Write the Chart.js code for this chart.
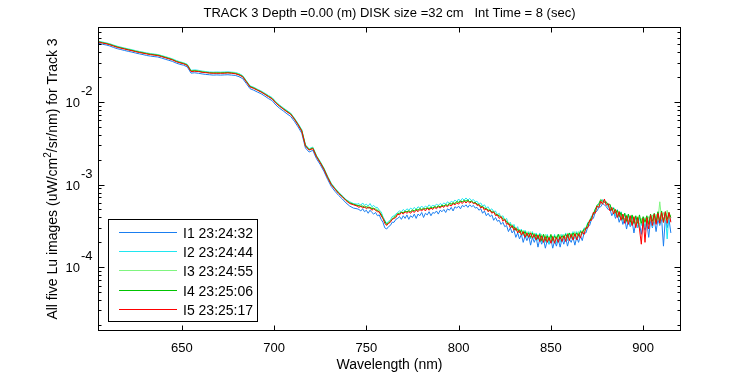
<!DOCTYPE html>
<html><head><meta charset="utf-8">
<script src="https://cdn.jsdelivr.net/npm/chart.js@4.4.1/dist/chart.umd.min.js"></script>
<style>html,body{margin:0;padding:0;background:#fff;overflow:hidden}#wrap{width:750px;height:375px}</style>
</head><body><div id="wrap"><canvas id="c" width="750" height="375"></canvas></div>
<script>
// Wavelength (nm): 2 nm steps to 743, then 1 nm steps 745-915
const wavelengths = [605,607,609,611,613,615,617,619,621,623,
625,627,629,631,633,635,637,639,641,643,
645,647,649,651,653,655,657,659,661,663,
665,667,669,671,673,675,677,679,681,683,
685,687,689,691,693,695,697,699,701,703,
705,707,709,711,713,715,717,719,721,723,
725,727,729,731,733,735,737,739,741,743,
745,746,747,748,749,750,751,752,753,754,
755,756,757,758,759,760,761,762,763,764,
765,766,767,768,769,770,771,772,773,774,
775,776,777,778,779,780,781,782,783,784,
785,786,787,788,789,790,791,792,793,794,
795,796,797,798,799,800,801,802,803,804,
805,806,807,808,809,810,811,812,813,814,
815,816,817,818,819,820,821,822,823,824,
825,826,827,828,829,830,831,832,833,834,
835,836,837,838,839,840,841,842,843,844,
845,846,847,848,849,850,851,852,853,854,
855,856,857,858,859,860,861,862,863,864,
865,866,867,868,869,870,871,872,873,874,
875,876,877,878,879,880,881,882,883,884,
885,886,887,888,889,890,891,892,893,894,
895,896,897,898,899,900,901,902,903,904,
905,906,907,908,909,910,911,912,913,914,
915];

// Values in units of 1e-4 uW/cm^2/sr/nm
const UNIT = 1e-4;
const I1 = [515,500,491,477,458,443,432,421,411,402,
392,383,375,366,360,355,351,341,330,320,
310,296,286,279,266,224,226,223,219,216,
214,212,213,212,213,214,212,210,203,192,
167,145,139,132,126,118,110,104,92,84,
78,72,67,58.5,50,42,27.8,24.8,26,20.6,
17.5,14.5,11.6,9.5,8.3,7.4,6.7,6.0,5.5,5.2,
5.1,5.0,4.8,5.1,4.7,4.9,4.5,4.9,4.6,4.4,
4.6,4.2,4.3,3.8,3.5,3.0,2.9,3.1,3.2,3.5,
3.5,3.8,3.9,4.1,3.8,4.2,3.9,4.3,3.8,4.2,
4.0,4.4,3.9,4.4,4.2,4.6,4.0,4.5,4.3,4.7,
4.2,4.6,4.5,4.8,4.4,4.9,4.7,5.0,4.6,5.1,
4.9,5.3,4.8,5.4,5.2,5.5,5.1,5.6,5.4,5.7,
5.3,5.7,5.4,5.6,5.2,5.3,4.9,5.1,4.5,4.8,
4.2,4.5,4.1,4.3,3.7,4.0,3.6,3.7,3.3,3.5,
3.1,3.2,2.7,3.0,2.6,2.8,2.3,2.6,2.2,2.5,
2.0,2.4,2.1,2.4,1.85,2.3,2.0,2.3,1.75,2.2,
1.9,2.2,1.7,2.1,1.9,2.2,1.7,2.1,1.8,2.2,
1.75,2.2,1.9,2.3,1.8,2.2,2.0,2.3,1.85,2.3,
2.0,2.4,2.1,2.6,2.6,3.1,3.2,3.8,3.9,4.6,
4.8,5.3,5.4,5.9,5.7,5.4,5.0,5.1,4.2,4.7,
3.9,4.4,3.5,4.1,3.3,3.9,2.9,3.7,3.1,3.6,
2.6,3.5,3.0,3.4,2.5,3.4,2.8,3.5,2.3,3.7,
3.0,3.8,2.7,3.8,3.2,3.9,1.8,3.9,3.0,3.8,
2.6];
const I2 = [545,533,521,508,490,474,462,451,440,430,
419,410,402,393,387,381,376,366,355,344,
333,318,307,299,286,242,245,242,237,234,
231,230,231,230,231,232,230,228,221,209,
181,157,151,143,136,128,120,113,100.5,92,
85,79,73.5,64,55,46.5,30.5,27.2,28.5,22.5,
19.1,15.9,12.7,10.4,9.1,8.1,7.3,6.6,6.2,5.9,
5.8,5.9,5.6,6.0,5.6,5.8,5.5,5.9,5.4,5.6,
5.3,5.3,4.9,4.7,4.1,3.7,3.4,3.6,3.7,4.1,
4.2,4.4,4.6,4.8,4.7,5.0,4.8,5.1,4.9,5.2,
5.0,5.3,5.0,5.4,5.2,5.5,5.2,5.5,5.3,5.7,
5.4,5.6,5.5,5.8,5.6,5.9,5.7,6.0,5.8,6.2,
5.9,6.3,6.1,6.5,6.2,6.7,6.3,6.8,6.5,6.9,
6.5,6.8,6.4,6.6,6.2,6.3,5.8,6.0,5.5,5.7,
5.2,5.4,4.9,5.1,4.7,4.8,4.3,4.5,4.0,4.2,
3.7,3.9,3.3,3.5,3.0,3.3,2.8,3.1,2.6,2.9,
2.4,2.8,2.3,2.7,2.2,2.7,2.2,2.6,2.1,2.6,
2.0,2.5,2.0,2.5,1.9,2.4,2.0,2.5,1.95,2.5,
2.0,2.5,2.1,2.6,2.1,2.6,2.2,2.7,2.2,2.7,
2.3,2.8,2.5,3.0,2.9,3.5,3.5,4.2,4.3,5.1,
5.2,5.9,5.8,6.6,6.2,6.0,5.3,5.6,4.8,5.3,
4.2,5.0,4.0,4.7,3.6,4.5,3.5,4.4,3.2,4.2,
3.3,4.1,3.0,4.0,3.2,4.0,3.0,4.1,3.3,4.3,
3.1,4.4,3.4,4.6,3.3,4.5,3.6,4.6,2.2,4.5,
3.6];
const I3 = [540,527,517,503,485,469,457,446,435,425,
415,406,398,389,383,377,372,362,351,340,
329,314,304,296,283,239,241,238,234,231,
228,227,227,228,228,229,227,225,218,206,
179,155,149,141,134,126,118,111,99,90.5,
84,77.5,72.5,63,54,45.5,30,26.8,28,22.2,
18.8,15.7,12.5,10.2,9.0,8.0,7.2,6.5,6.1,5.8,
5.6,5.5,5.7,5.4,5.6,5.3,5.5,5.3,5.3,5.1,
5.2,4.9,4.9,4.4,4.0,3.6,3.3,3.5,3.7,3.9,
4.1,4.2,4.5,4.5,4.7,4.6,4.8,4.7,4.9,4.7,
5.0,4.8,5.1,4.9,5.2,5.0,5.2,5.1,5.3,5.2,
5.4,5.2,5.5,5.3,5.6,5.4,5.7,5.5,5.8,5.6,
6.0,5.8,6.1,5.9,6.3,6.1,6.4,6.2,6.5,6.3,
6.5,6.2,6.4,6.1,6.1,5.8,5.8,5.4,5.5,5.1,
5.2,4.9,5.0,4.6,4.8,4.4,4.4,4.1,4.2,3.8,
3.9,3.5,3.5,3.2,3.3,2.9,3.0,2.7,2.9,2.5,
2.8,2.4,2.7,2.4,2.7,2.3,2.6,2.3,2.5,2.2,
2.5,2.1,2.5,2.1,2.4,2.1,2.4,2.1,2.4,2.2,
2.5,2.2,2.5,2.2,2.6,2.3,2.6,2.3,2.7,2.3,
2.7,2.4,2.8,2.6,3.1,3.1,3.8,3.8,4.6,4.6,
5.6,5.4,6.3,6.0,6.5,5.8,5.8,5.0,5.3,4.5,
5.0,4.2,4.8,3.9,4.4,3.6,4.3,3.5,4.2,3.3,
4.0,3.3,4.1,3.2,3.9,3.3,4.0,3.4,4.1,3.6,
4.3,3.5,4.4,3.7,6.2,3.8,4.6,3.7,4.9,3.8,
4.3];
const I4 = [536,522,512,498,481,465,453,442,431,422,
411,402,394,386,379,374,369,359,348,337,
326,311,301,293,280,237,239,236,231,229,
226,225,225,225,226,227,225,222,215,204,
177,154,148,140,133,125,117,110,98,89.5,
83,77,71.8,62.5,53.5,45,29.7,26.5,27.7,22,
18.6,15.5,12.3,10.1,8.9,7.9,7.2,6.5,6.0,5.8,
5.6,5.6,5.4,5.5,5.3,5.4,5.2,5.3,5.1,5.2,
4.9,4.9,4.6,4.4,3.9,3.6,3.3,3.4,3.6,3.8,
4.0,4.2,4.4,4.5,4.6,4.6,4.7,4.7,4.8,4.7,
4.9,4.8,5.0,4.9,5.1,5.0,5.1,5.1,5.2,5.1,
5.3,5.2,5.4,5.3,5.5,5.4,5.6,5.5,5.7,5.6,
5.9,5.8,6.0,5.9,6.2,6.1,6.3,6.2,6.4,6.3,
6.5,6.2,6.3,6.0,6.1,5.8,5.7,5.5,5.4,5.2,
5.1,4.9,4.9,4.7,4.6,4.4,4.3,4.2,4.0,3.9,
3.7,3.6,3.3,3.3,3.0,3.1,2.8,2.9,2.6,2.8,
2.5,2.7,2.4,2.6,2.3,2.6,2.3,2.5,2.2,2.5,
2.1,2.5,2.1,2.4,2.1,2.5,2.1,2.4,2.2,2.5,
2.2,2.4,2.3,2.5,2.3,2.6,2.3,2.6,2.4,2.6,
2.4,2.7,2.6,2.9,2.9,3.4,3.6,4.0,4.4,5.0,
5.6,5.9,6.6,6.3,6.1,6.2,5.7,5.8,4.9,5.2,
4.5,4.9,4.1,4.6,3.8,4.5,3.6,4.4,3.5,4.3,
3.4,4.2,3.4,4.3,3.4,4.1,3.5,4.2,3.3,4.4,
3.6,4.5,3.5,4.7,3.6,4.8,3.5,4.7,3.8,4.6,
4.0];
const I5 = [531,518,508,494,476,460,449,438,427,418,
407,398,390,382,375,370,365,355,344,334,
323,308,298,290,277,234,236,234,229,227,
224,223,223,223,223,225,223,220,213,202,
175,152,146,139,132,124,116,109,97,89,
82,76,71,62,53,44.5,29.3,26.2,27.3,21.7,
18.4,15.3,12.2,10.0,8.8,7.8,7.1,6.4,5.9,5.7,
5.5,5.3,5.5,5.2,5.4,5.1,5.3,5.2,4.9,5.1,
4.9,4.7,4.7,4.2,3.9,3.4,3.2,3.4,3.5,3.8,
3.9,4.0,4.4,4.3,4.6,4.4,4.7,4.5,4.7,4.5,
4.8,4.6,4.9,4.7,5.0,4.8,5.1,4.8,5.2,4.9,
5.2,5.0,5.3,5.1,5.4,5.2,5.5,5.3,5.6,5.4,
5.7,5.5,5.9,5.7,6.0,5.8,6.2,5.9,6.3,6.0,
6.3,6.0,6.2,5.9,6.0,5.6,5.7,5.2,5.4,4.9,
5.1,4.7,4.9,4.5,4.7,4.2,4.3,3.9,4.1,3.6,
3.8,3.3,3.4,3.0,3.2,2.8,3.0,2.6,2.8,2.45,
2.7,2.3,2.6,2.3,2.6,2.25,2.5,2.15,2.45,2.05,
2.4,2.0,2.35,2.0,2.3,1.95,2.35,1.95,2.3,2.0,
2.35,2.05,2.4,2.05,2.5,2.1,2.5,2.15,2.55,2.15,
2.55,2.25,2.7,2.5,3.0,3.0,3.7,3.7,4.6,4.5,
5.5,5.3,6.3,5.8,6.7,5.6,5.9,4.8,5.3,4.4,
5.0,4.0,4.7,3.7,4.4,3.4,4.2,3.3,4.2,3.2,
4.1,3.0,4.0,2.9,1.9,3.9,2.0,4.0,2.9,4.3,
3.2,4.4,3.3,4.5,3.4,4.6,3.5,4.7,3.4,4.6,
3.5];

const seriesNames = ['I1 23:24:32','I2 23:24:44','I3 23:24:55','I4 23:25:06','I5 23:25:17'];
const seriesColors = ['#1a7ef0','#20e6f0','#80f580','#00c400','#ff0000'];
const seriesValues = [I1,I2,I3,I4,I5];
const xTicks = [650,700,750,800,850,900];
const yDecades = [-2,-3,-4];
const xMin = 604.6, xMax = 920.5, yMin = 1.69e-5, yMax = 0.081;
const titleText = 'TRACK 3 Depth =0.00 (m) DISK size =32 cm   Int Time = 8 (sec)';
const xLabel = 'Wavelength (nm)';
const yLabelParts = ['All five Lu images (uW/cm','2','/sr/nm) for Track 3'];

const FONT = '"Liberation Sans", Arial, sans-serif';

const datasets = seriesValues.map((vals,i)=>({
  label: seriesNames[i],
  data: wavelengths.map((w,j)=>({x:w, y:vals[j]*UNIT})),
  borderColor: seriesColors[i],
  backgroundColor: seriesColors[i],
  borderWidth: 1,
  pointRadius: 0,
  tension: 0,
  fill: false,
  order: seriesValues.length - i
}));

const framePlugin = {
  id: 'frame',
  afterDraw(chart){
    const {ctx, chartArea:a, scales:{x, y}} = chart;
    ctx.save();
    ctx.strokeStyle = '#000';
    ctx.fillStyle = '#000';
    ctx.lineWidth = 1;
    const L = Math.round(a.left)+0.5, R = Math.round(a.right)-0.5;
    const T = Math.round(a.top)+0.5, B = Math.round(a.bottom)-0.5;
    ctx.strokeRect(L, T, R-L, B-T);
    ctx.beginPath();
    xTicks.forEach(v=>{
      const px = Math.round(x.getPixelForValue(v))+0.5;
      ctx.moveTo(px, B); ctx.lineTo(px, B-5);
      ctx.moveTo(px, T); ctx.lineTo(px, T+5);
    });
    for (let d=-5; d<=-1; d++){
      for (let m=1; m<=9; m++){
        const v = m*Math.pow(10,d);
        if (v < yMin || v > yMax) continue;
        const py = Math.round(y.getPixelForValue(v))+0.5;
        const len = m===1 ? 6 : 3;
        ctx.moveTo(L, py); ctx.lineTo(L+len, py);
        ctx.moveTo(R, py); ctx.lineTo(R-len, py);
      }
    }
    ctx.stroke();
    ctx.font = '13px ' + FONT;
    ctx.textAlign = 'center';
    ctx.textBaseline = 'alphabetic';
    xTicks.forEach(v=>{
      ctx.fillText(String(v), x.getPixelForValue(v), 352);
    });
    yDecades.forEach(d=>{
      const py = y.getPixelForValue(Math.pow(10,d));
      ctx.font = '13px ' + FONT;
      ctx.textAlign = 'right';
      ctx.fillText('10', 80, py+5);
      ctx.textAlign = 'left';
      ctx.fillText(String(d), 81, py-7);
    });
    ctx.font = '13px ' + FONT;
    ctx.textAlign = 'center';
    ctx.fillText(titleText, (a.left+a.right)/2, 17);
    ctx.font = '14px ' + FONT;
    ctx.fillText(xLabel, (a.left+a.right)/2, 369);
    ctx.save();
    ctx.translate(57, (a.top+a.bottom)/2);
    ctx.rotate(-Math.PI/2);
    ctx.textAlign = 'left';
    ctx.font = '14px ' + FONT;
    const w1 = ctx.measureText(yLabelParts[0]).width;
    const w3 = ctx.measureText(yLabelParts[2]).width;
    ctx.font = '10px ' + FONT;
    const w2 = ctx.measureText(yLabelParts[1]).width;
    const sx = -(w1+w2+w3)/2;
    ctx.font = '14px ' + FONT;
    ctx.fillText(yLabelParts[0], sx, 0);
    ctx.font = '10px ' + FONT;
    ctx.fillText(yLabelParts[1], sx+w1, -6);
    ctx.font = '14px ' + FONT;
    ctx.fillText(yLabelParts[2], sx+w1+w2, 0);
    ctx.restore();
    const lx0 = 108.5, ly0 = 219.5, lx1 = 257.5, ly1 = 321.5;
    ctx.fillStyle = '#fff';
    ctx.fillRect(lx0, ly0, lx1-lx0, ly1-ly0);
    ctx.strokeStyle = '#000';
    ctx.strokeRect(lx0, ly0, lx1-lx0, ly1-ly0);
    ctx.font = '14px ' + FONT;
    ctx.textAlign = 'left';
    seriesNames.forEach((n,i)=>{
      const ry = Math.round(231.5 + i*19.45) + 0.5;
      ctx.strokeStyle = seriesColors[i];
      ctx.beginPath(); ctx.moveTo(119, ry); ctx.lineTo(177, ry); ctx.stroke();
      ctx.fillStyle = '#000';
      ctx.fillText(n, 183, ry+5);
    });
    ctx.restore();
  }
};

new Chart(document.getElementById('c'), {
  type: 'line',
  data: { datasets },
  options: {
    responsive: false,
    animation: false,
    devicePixelRatio: 1,
    layout: { padding: { left: 0, top: 27, right: 69, bottom: 0 } },
    plugins: { legend: { display: false }, title: { display: false }, tooltip: { enabled: false } },
    scales: {
      x: {
        type: 'linear', min: xMin, max: xMax,
        ticks: { display: false }, grid: { display: false }, border: { display: false },
        afterFit(s){ s.height = 44; }
      },
      y: {
        type: 'logarithmic', min: yMin, max: yMax,
        ticks: { display: false }, grid: { display: false }, border: { display: false },
        afterFit(s){ s.width = 98; }
      }
    }
  },
  plugins: [framePlugin]
});
</script>
</body></html>
